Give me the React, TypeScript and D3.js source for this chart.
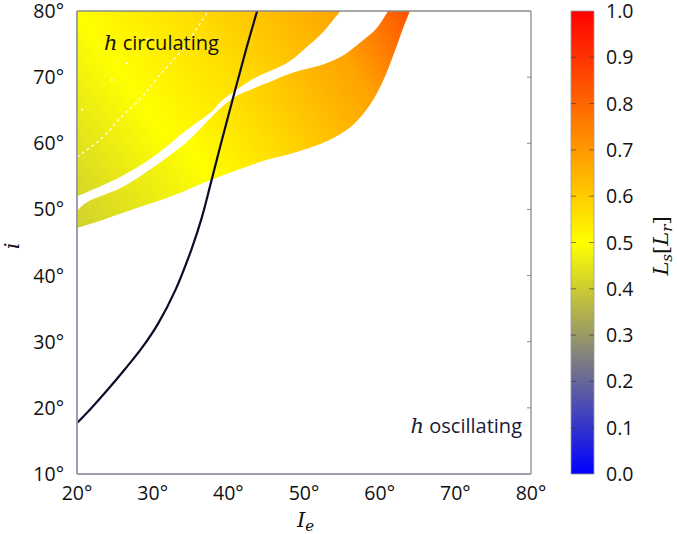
import React from 'react';
import * as d3 from 'd3';

// ---- data ----
const xTicks = [20, 30, 40, 50, 60, 70, 80];
const yTicks = [10, 20, 30, 40, 50, 60, 70, 80];
const cbTicks = [0, 0.1, 0.2, 0.3, 0.4, 0.5, 0.6, 0.7, 0.8, 0.9, 1.0];

// separatrix between h circulating / h oscillating  [I_e, i]
const separatrix: [number, number][] = [
  [20, 17.7], [22.0, 20.1], [24.1, 22.8], [26.3, 25.8], [28.6, 29.1], [30.7, 32.7], [33.0, 37.8],
  [35.2, 44.2], [36.5, 48.8], [37.6, 53.6], [38.9, 59.4], [40.7, 67.2], [42.4, 74.4], [43.8, 80],
];

// upper-left region: top-left corner, then lower boundary (right to left)
const regionATop: [number, number][] = [[20, 80]];
const regionALower: [number, number][] = [
  [54.8, 80], [52.5, 76.8], [50.3, 74.5], [48.1, 72.4], [45.9, 71.1],
  [43.7, 70.0], [41.1, 68.1], [38.9, 66.2], [38.0, 65.0], [34.5, 62.0],
  [30.0, 57.9], [25.7, 54.9], [21.3, 52.6], [20, 52.0],
];
// lower band: upper edge (left to right) then outer edge (top to bottom-left)
const bandBUpper: [number, number][] = [
  [20, 49.8], [21.3, 51.1], [25.7, 53.2], [30.0, 56.3], [34.5, 60.2], [36.3, 62.2],
  [38.5, 64.8], [40.6, 66.8], [41.9, 67.6], [45.1, 69.1], [48.3, 70.6], [52.5, 71.9],
  [55.2, 73.3], [57.4, 75.2], [59.6, 77.4], [61.1, 80],
];
const bandBOuter: [number, number][] = [
  [64.0, 80], [63.1, 77.4], [61.8, 73.3], [60.4, 69.3], [58.7, 65.8], [56.5, 62.8],
  [54.8, 61.4], [53.0, 60.3], [51.7, 59.7], [48.5, 58.5], [45.1, 57.5], [40.6, 55.7],
  [37.6, 54.4], [36.3, 53.8], [32.3, 51.9], [27.9, 50.2], [23.4, 48.4], [20, 47.2],
];

// L_s values along each region (offset along gradient axis, value)
const regionAAxis: [number, number][] = [[20, 52], [54.8, 80]];
const regionAValues: [number, number][] = [[0, 0.42], [0.33, 0.5], [0.6, 0.56], [1, 0.68]];
const bandBAxis: [number, number][] = [[20, 47.2], [64, 80]];
const bandBValues: [number, number][] = [[0, 0.41], [0.35, 0.5], [0.8, 0.68], [1, 0.84]];

// thin white gaps inside the upper region
const gapLine: [number, number][] = [
  [20, 57.9], [23.4, 60.9], [25.7, 63.8], [28.6, 67.0], [30.7, 70.0], [33.6, 73.8], [37.2, 79.7],
];
const gapDots: [number, number][] = [[20.7, 65.1], [24.6, 69.6], [26.6, 72.1], [29.4, 75.8]];

// colour palette stops
const paletteDomain = [0, 0.5, 1];
const paletteColors = ['#0000ff', '#ffff00', '#ff0000'];

export default function App() {
  const W = 677, H = 534;
  const x = d3.scaleLinear().domain([20, 80]).range([77, 531]);
  const y = d3.scaleLinear().domain([10, 80]).range([474, 11]);
  const cb = d3.scaleLinear().domain([0, 1]).range([474, 11]);
  const color = d3.scaleLinear<string>().domain(paletteDomain).range(paletteColors).interpolate(d3.interpolateRgb);
  const cbX0 = 571, cbX1 = 594;

  const line = d3.line<[number, number]>().x(d => x(d[0])).y(d => y(d[1]));
  const smooth = d3.line<[number, number]>().x(d => x(d[0])).y(d => y(d[1])).curve(d3.curveCatmullRom.alpha(0.5));
  const cont = (pts: [number, number][]) => 'L' + smooth(pts)!.slice(1);

  const pathA = line(regionATop)! + cont(regionALower) + 'Z';
  const pathB = smooth(bandBUpper)! + cont(bandBOuter) + 'Z';
  const font = "'Open Sans', sans-serif";
  const serif = "'DejaVu Serif', 'Liberation Serif', serif";
  const fs = 19.5;

  return (
    <svg width={W} height={H} style={{ position: 'absolute', left: 0, top: 0, background: '#fff' }}>
      <defs>
        <linearGradient id="gA" gradientUnits="userSpaceOnUse"
          x1={x(regionAAxis[0][0])} y1={y(regionAAxis[0][1])} x2={x(regionAAxis[1][0])} y2={y(regionAAxis[1][1])}>
          {regionAValues.map(([o, v], k) => <stop key={k} offset={o} stopColor={color(v)} />)}
        </linearGradient>
        <linearGradient id="gB" gradientUnits="userSpaceOnUse"
          x1={x(bandBAxis[0][0])} y1={y(bandBAxis[0][1])} x2={x(bandBAxis[1][0])} y2={y(bandBAxis[1][1])}>
          {bandBValues.map(([o, v], k) => <stop key={k} offset={o} stopColor={color(v)} />)}
        </linearGradient>
        <linearGradient id="gCB" x1="0" y1="1" x2="0" y2="0">
          {paletteDomain.map((v, k) => <stop key={k} offset={v} stopColor={paletteColors[k]} />)}
        </linearGradient>
        <clipPath id="plotClip"><rect x={77} y={11} width={454} height={463} /></clipPath>
      </defs>

      <g clipPath="url(#plotClip)">
        <path d={pathA} fill="url(#gA)" />
        <path d={pathB} fill="url(#gB)" />
        <path d={smooth(gapLine)!} fill="none" stroke="#fff" strokeWidth={1.3} strokeDasharray="3,3" strokeOpacity={0.9} />
        {gapDots.map((d, k) => <circle key={k} cx={x(d[0])} cy={y(d[1])} r={1.1} fill="#fff" />)}
        <path d={smooth(separatrix)!} fill="none" stroke="#0c0c2a" strokeWidth={2.2} />
      </g>

      {/* frame */}
      <line x1={77} y1={11} x2={531} y2={11} stroke="#8a8a8a" strokeWidth={1.5} />
      <line x1={531} y1={11} x2={531} y2={474} stroke="#9a9a9a" strokeWidth={1.5} />
      {yTicks.slice(1, -1).map(t => (
        <line key={t} x1={527} x2={531} y1={y(t)} y2={y(t)} stroke="#8a8a8a" strokeWidth={1} />
      ))}
      <line x1={77} y1={11} x2={77} y2={474} stroke="#9c9cb2" strokeWidth={2} />
      <line x1={77} y1={474} x2={531} y2={474} stroke="#9c9cb2" strokeWidth={2} />

      {/* tick labels */}
      {xTicks.map(t => (
        <text key={t} x={x(t)} y={500} textAnchor="middle" fontFamily={font} fontSize={fs} fill="#111">{t}°</text>
      ))}
      {yTicks.map(t => (
        <text key={t} x={64} y={y(t) + 7} textAnchor="end" fontFamily={font} fontSize={fs} fill="#111">{t}°</text>
      ))}

      {/* axis titles */}
      <text x={297} y={527} fontFamily={serif} fontStyle="italic" fontSize={21} fill="#111">I<tspan fontSize={15} dy={4}>e</tspan></text>
      <text transform="translate(19,246) rotate(-90)" textAnchor="middle" fontFamily={serif} fontStyle="italic" fontSize={21} fill="#111">i</text>

      {/* annotations */}
      <text x={104} y={50} fontFamily={font} fontSize={20} fill="#111">
        <tspan fontFamily={serif} fontStyle="italic" fontSize={21}>h</tspan> circulating</text>
      <text x={522} y={433} textAnchor="end" fontFamily={font} fontSize={20} fill="#1a1a3c">
        <tspan fontFamily={serif} fontStyle="italic" fontSize={21}>h</tspan> oscillating</text>

      {/* colorbar */}
      <rect x={cbX0} y={11} width={cbX1 - cbX0} height={463} fill="url(#gCB)" stroke="#999" strokeWidth={0.8} />
      {cbTicks.slice(1, -1).map(t => (
        <g key={t}>
          <line x1={cbX0} x2={cbX0 + 5} y1={cb(t)} y2={cb(t)} stroke="#333" strokeOpacity={0.6} strokeWidth={1} />
          <line x1={cbX1 - 5} x2={cbX1} y1={cb(t)} y2={cb(t)} stroke="#333" strokeOpacity={0.6} strokeWidth={1} />
        </g>
      ))}
      {cbTicks.map(t => (
        <text key={t} x={606} y={cb(t) + 7} fontFamily={font} fontSize={fs} fill="#111">{t.toFixed(1)}</text>
      ))}
      <text transform="translate(668,246) rotate(-90)" textAnchor="middle" fontFamily={serif} fontSize={21} fill="#111">
        <tspan fontStyle="italic">L</tspan><tspan fontStyle="italic" fontSize={15} dy={4}>s</tspan><tspan dy={-4}>[</tspan><tspan fontStyle="italic">L</tspan><tspan fontStyle="italic" fontSize={15} dy={4}>r</tspan><tspan dy={-4}>]</tspan>
      </text>
    </svg>
  );
}
